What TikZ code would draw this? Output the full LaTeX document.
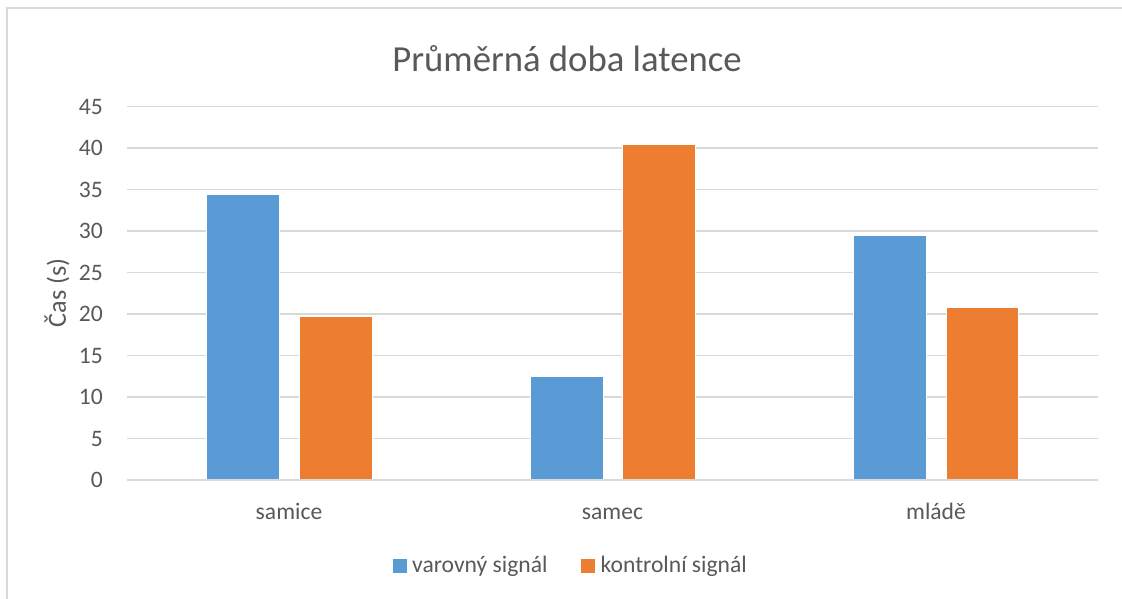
\documentclass[tikz,border=0pt]{standalone}
\usepackage{fontspec}
\setmainfont{Carlito}
\definecolor{txtgray}{HTML}{595959}
\definecolor{gridgray}{HTML}{D9D9D9}
\definecolor{serblue}{HTML}{5B9BD5}
\definecolor{serorange}{HTML}{ED7D31}
\begin{document}
\begin{tikzpicture}[x=1pt,y=-1pt,
  gridline/.style={draw=gridgray,line width=1.5pt},
  ticklabel/.style={text=txtgray,font=\fontsize{23.6}{26}\selectfont,inner sep=0pt,anchor=east},
  catlabel/.style={text=txtgray,font=\fontsize{23.6}{26}\selectfont,inner sep=0pt,anchor=base},
  legendtext/.style={text=txtgray,font=\fontsize{23.6}{26}\selectfont,inner sep=0pt,anchor=base west},
  bar/.style={draw=white,line width=0.8pt},
  barA/.style={bar,fill=serblue},
  barB/.style={bar,fill=serorange}]
  \useasboundingbox (0,0) rectangle (1122,599);
  \fill[white] (0,0) rectangle (1122,599);
  % chart area frame (top and left edges visible)
  \draw[draw=gridgray,line width=1.5pt] (7,610) -- (7,8) -- (1130,8);

  % title
  \node[text=txtgray,font=\fontsize{36.7}{40}\selectfont,inner sep=0pt,anchor=base] (title) at (567,72) {Průměrná doba latence};

  % horizontal grid lines and value labels
  \foreach \k in {0,...,9}{
    \pgfmathsetmacro{\yy}{480-41.48*\k}
    \pgfmathtruncatemacro{\val}{5*\k}
    \draw[gridline] (127.3,\yy) -- (1097.7,\yy);
    \node[ticklabel] (tick\k) at (103,\yy) {\val};
  }

  % axis title
  \node[text=txtgray,font=\fontsize{26.2}{28}\selectfont,inner sep=0pt,rotate=90] (ytitle) at (57,293) {Čas (s)};

  % bars: value v maps to y = 480 - 8.296 v
  \newcommand{\drawbar}[3]{%
    \pgfmathsetmacro{\top}{480-8.296*#2}
    \draw[#3] (#1,480) rectangle (#1+72.6,\top);
  }
  \drawbar{206.7}{34.45}{barA}
  \drawbar{299.3}{19.7}{barB}
  \drawbar{530.3}{12.45}{barA}
  \drawbar{622.3}{40.5}{barB}
  \drawbar{853.3}{29.45}{barA}
  \drawbar{946.0}{20.8}{barB}
  % baseline redrawn over bar bottoms
  \draw[gridline] (127.3,480) -- (1097.7,480);

  % category labels
  \node[catlabel] (catA) at (289,519) {samice};
  \node[catlabel] (catB) at (612.5,519) {samec};
  \node[catlabel] (catC) at (936,519) {mládě};

  % legend
  \fill[serblue] (393,559) rectangle (406.5,572.5);
  \node[legendtext] (legA) at (412,572.3) {varovný signál};
  \fill[serorange] (581,559) rectangle (594.5,572.5);
  \node[legendtext] (legB) at (600.5,572.3) {kontrolní signál};
\end{tikzpicture}
\end{document}
